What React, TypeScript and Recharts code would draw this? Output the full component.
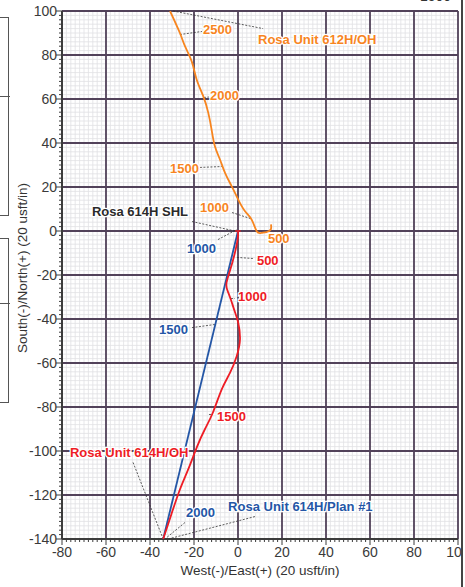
import {
  CartesianGrid,
  ReferenceDot,
  ReferenceLine,
  Scatter,
  ScatterChart,
  XAxis,
  YAxis,
} from "recharts";

// 웰 궤적 (x = West(-)/East(+), y = South(-)/North(+), usft)
const ORANGE_612H = [
  { x: 15, y: 3 },
  { x: 14.9, y: 0.7 },
  { x: 13, y: -0.5 },
  { x: 10.5, y: -0.9 },
  { x: 8.5, y: -0.1 },
  { x: 6.2, y: 5.2 },
  { x: 3.2, y: 9 },
  { x: 0.1, y: 14.3 },
  { x: -2.9, y: 20.4 },
  { x: -5.9, y: 26.4 },
  { x: -8.2, y: 32.5 },
  { x: -10.5, y: 38.5 },
  { x: -12, y: 46.1 },
  { x: -13.5, y: 53.7 },
  { x: -15.8, y: 61.3 },
  { x: -18.8, y: 68.9 },
  { x: -21, y: 77 },
  { x: -24.1, y: 84 },
  { x: -26.4, y: 90 },
  { x: -30.9, y: 100 },
];

const RED_614H = [
  { x: 0, y: 0 },
  { x: -0.2, y: -4 },
  { x: -1.8, y: -11.5 },
  { x: -3.5, y: -17.5 },
  { x: -5.2, y: -23.5 },
  { x: -4.8, y: -27 },
  { x: -3.3, y: -31 },
  { x: -1.5, y: -36.5 },
  { x: 0.1, y: -41.7 },
  { x: 0.9, y: -49.3 },
  { x: -0.6, y: -56.9 },
  { x: -3.6, y: -64.4 },
  { x: -7.4, y: -72 },
  { x: -11.4, y: -82.5 },
  { x: -15, y: -90 },
  { x: -18.6, y: -98 },
  { x: -22.5, y: -108 },
  { x: -26.4, y: -117.5 },
  { x: -30.2, y: -128.5 },
  { x: -34, y: -140 },
];

const BLUE_PLAN = [
  { x: 0, y: 0 },
  { x: -34, y: -140 },
];

const X_MAJOR = [-80, -60, -40, -20, 0, 20, 40, 60, 80, 100];
const Y_MAJOR = [-140, -120, -100, -80, -60, -40, -20, 0, 20, 40, 60, 80, 100];

function steps(from: number, to: number, step: number): number[] {
  const out: number[] = [];
  for (let v = from; v <= to; v += step) out.push(v);
  return out;
}
const X_TICKS = steps(-80, 100, 2);
const Y_TICKS = steps(-140, 100, 2);

const COLOR = {
  orange: "#f7851f",
  red: "#ee1c25",
  blue: "#2456a6",
  black: "#2a2a2a",
  major: "#52425a",
  minor: "#e1e1e4",
  axis: "#3c3c3c",
};

const FONT = '"Liberation Sans", Arial, Helvetica, sans-serif';

// 라벨: [텍스트, x, y, 색]
const NOTES: [string, number, number, string][] = [
  ["2500", -15.9, 91.6, COLOR.orange],
  ["Rosa Unit 612H/OH", 9.1, 87, COLOR.orange],
  ["2000", -12.7, 61.6, COLOR.orange],
  ["1500", -30.9, 28.4, COLOR.orange],
  ["1000", -17.3, 10.7, COLOR.orange],
  ["500", 13.6, -3.4, COLOR.orange],
  ["500", 8.6, -13.4, COLOR.red],
  ["1000", 0, -29.8, COLOR.red],
  ["1500", -9.5, -84.3, COLOR.red],
  ["Rosa Unit 614H/OH", -76.4, -100.7, COLOR.red],
  ["1000", -23.2, -8, COLOR.blue],
  ["1500", -35.9, -44.8, COLOR.blue],
  ["2000", -23.6, -128, COLOR.blue],
  ["Rosa Unit 614H/Plan #1", -4.5, -125.2, COLOR.blue],
  ["Rosa 614H SHL", -66.4, 8.9, COLOR.black],
];

// 점선 지시선: [x1, y1, x2, y2]
const LEADERS: [number, number, number, number][] = [
  [-26.4, 89.3, -16.4, 90.7],
  [-29.5, 100, 11.4, 92],
  [-15.5, 60.7, -13.2, 60.9],
  [-17.3, 28.9, -7.4, 29.3],
  [-2.7, 8.4, 5.5, 5.7],
  [-0.5, -12, 6.8, -12.5],
  [-3.2, -30.7, -1.4, -30.7],
  [-13.2, -83.4, -11.4, -83.4],
  [-47.7, -105.2, -34, -140],
  [-9.1, -3.9, -0.5, 0.7],
  [-20.9, -43.9, -10.5, -42.5],
  [-24.1, -132.5, -33.2, -140],
  [7.7, -129.8, -31.8, -140],
  [-20.9, 4.3, -0.5, -0.2],
];

function XTick(props: any) {
  const { x, y, payload } = props;
  const major = payload.value % 20 === 0;
  return (
    <g>
      <line x1={x} x2={x} y1={y} y2={y + (major ? 6 : 3)} stroke={COLOR.axis} strokeWidth={1} />
      {major && (
        <text x={x} y={y + 18} textAnchor="middle" fontSize={14} fill="#3a3a3a" fontFamily={FONT}>
          {payload.value}
        </text>
      )}
    </g>
  );
}

function YTick(props: any) {
  const { x, y, payload } = props;
  const major = payload.value % 20 === 0;
  return (
    <g>
      <line x1={x} x2={x - (major ? 6 : 3)} y1={y} y2={y} stroke={COLOR.axis} strokeWidth={1} />
      {major && (
        <text x={x - 5} y={y + 5} textAnchor="end" fontSize={14} fill="#3a3a3a" fontFamily={FONT}>
          {payload.value}
        </text>
      )}
    </g>
  );
}

const noDot = () => <g />;

export default function App() {
  return (
    <div style={{ position: "absolute", left: 0, top: 0, width: 465, height: 587, background: "#fff" }}>
      {/* 잘린 주변 요소 */}
      <div style={{ position: "absolute", left: -2, top: 17, width: 10, height: 197, border: "1px solid #555", borderLeft: "none" }} />
      <div style={{ position: "absolute", left: 0, top: 96, width: 10, height: 1, background: "#555" }} />
      <div style={{ position: "absolute", left: -2, top: 238, width: 10, height: 163, border: "1px solid #555", borderLeft: "none" }} />
      <div style={{ position: "absolute", left: 0, top: 303, width: 10, height: 1, background: "#555" }} />
      <div style={{ position: "absolute", left: 420, top: -12, fontFamily: FONT, fontSize: 14, color: "#333" }}>1500</div>

      <ScatterChart
        width={465}
        height={587}
        margin={{ top: 11, right: 7, bottom: 0, left: 0 }}
        style={{ fontFamily: FONT }}
      >
        <CartesianGrid stroke={COLOR.minor} strokeWidth={0.8} />
        <XAxis
          type="number"
          dataKey="x"
          domain={[-80, 100]}
          ticks={X_TICKS}
          interval={0}
          allowDataOverflow
          height={48}
          tickSize={0}
          tickMargin={0}
          tickLine={false}
          tick={<XTick />}
          axisLine={{ stroke: COLOR.axis, strokeWidth: 2 }}
          label={{
            content: () => (
              <text x={260} y={575} textAnchor="middle" fontSize={13.5} fill="#333" fontFamily={FONT}>
                West(-)/East(+) (20 usft/in)
              </text>
            ),
          }}
        />
        <YAxis
          type="number"
          dataKey="y"
          domain={[-140, 100]}
          ticks={Y_TICKS}
          interval={0}
          allowDataOverflow
          width={62}
          tickSize={0}
          tickMargin={0}
          tickLine={false}
          tick={<YTick />}
          axisLine={{ stroke: COLOR.axis, strokeWidth: 2 }}
          label={{
            content: () => (
              <text
                x={22}
                y={268}
                textAnchor="middle"
                dominantBaseline="central"
                fontSize={13.5}
                fill="#333"
                fontFamily={FONT}
                transform="rotate(-90 22 268)"
              >
                South(-)/North(+) (20 usft/in)
              </text>
            ),
          }}
        />

        {X_MAJOR.map((v) => (
          <ReferenceLine key={`vx${v}`} x={v} stroke={COLOR.major} strokeWidth={1.8} />
        ))}
        {Y_MAJOR.map((v) => (
          <ReferenceLine key={`hy${v}`} y={v} stroke={COLOR.major} strokeWidth={1.8} />
        ))}

        {LEADERS.map(([x1, y1, x2, y2], i) => (
          <ReferenceLine
            key={`ld${i}`}
            segment={[
              { x: x1, y: y1 },
              { x: x2, y: y2 },
            ]}
            stroke="#333"
            strokeWidth={0.8}
            strokeDasharray="2 1.5"
            ifOverflow="visible"
          />
        ))}

        <Scatter
          name="Rosa Unit 612H/OH"
          data={ORANGE_612H}
          fill={COLOR.orange}
          line={{ stroke: COLOR.orange, strokeWidth: 1.8 }}
          lineJointType="natural"
          shape={noDot}
          isAnimationActive={false}
        />
        <Scatter
          name="Rosa Unit 614H/Plan #1"
          data={BLUE_PLAN}
          fill={COLOR.blue}
          line={{ stroke: COLOR.blue, strokeWidth: 1.8 }}
          shape={noDot}
          isAnimationActive={false}
        />
        <Scatter
          name="Rosa Unit 614H/OH"
          data={RED_614H}
          fill={COLOR.red}
          line={{ stroke: COLOR.red, strokeWidth: 1.8 }}
          lineJointType="natural"
          shape={noDot}
          isAnimationActive={false}
        />
        <ReferenceLine
          segment={[
            { x: -1.2, y: 0 },
            { x: 1.2, y: 0 },
          ]}
          stroke={COLOR.red}
          strokeWidth={1.5}
        />

        {NOTES.map(([text, x, y, color], i) => (
          <ReferenceDot
            key={`nt${i}`}
            x={x}
            y={y}
            r={0}
            ifOverflow="visible"
            shape={(p: any) => (
              <text
                x={p.cx}
                y={p.cy}
                dominantBaseline="central"
                fontSize={13}
                fontWeight="bold"
                fill={color}
                stroke="#fff"
                strokeWidth={2.5}
                paintOrder="stroke"
                fontFamily={FONT}
              >
                {text}
              </text>
            )}
          />
        ))}
      </ScatterChart>

      <div style={{ position: "absolute", left: 461, top: 0, width: 4, height: 587, background: "#fff", borderLeft: "2px solid #444", boxSizing: "border-box" }} />
    </div>
  );
}
